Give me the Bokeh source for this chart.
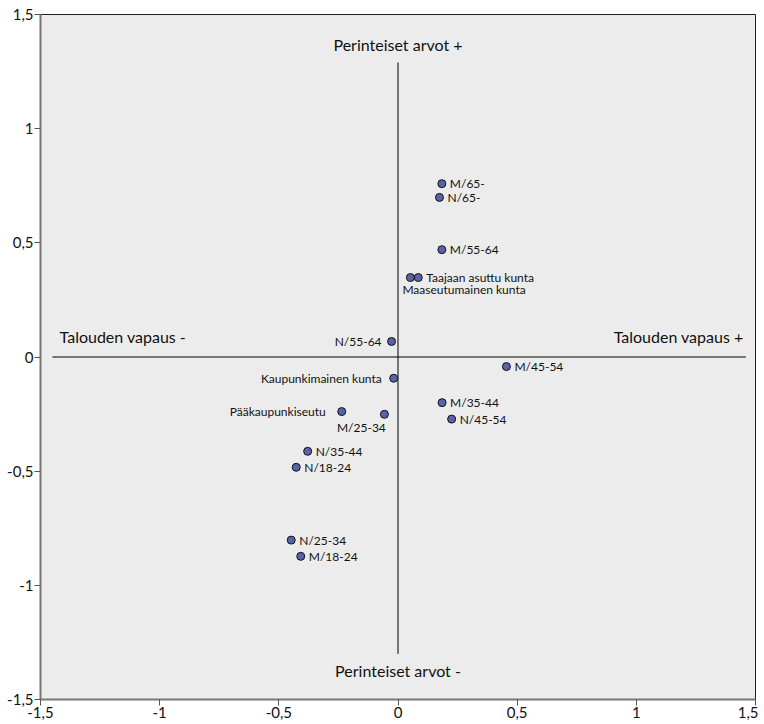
from bokeh.plotting import figure
from bokeh.models import ColumnDataSource, FixedTicker, Range1d, LabelSet
from bokeh.core.properties import value
from bokeh.embed import file_html
from bokeh.resources import INLINE

# ---- data ----
names = ["M/65-", "N/65-", "M/55-64", "Taajaan asuttu kunta", "Maaseutumainen kunta",
         "N/55-64", "M/45-54", "Kaupunkimainen kunta", "M/35-44", "N/45-54",
         "Pääkaupunkiseutu", "M/25-34", "N/35-44", "N/18-24", "N/25-34", "M/18-24"]
x_vals = [0.184, 0.174, 0.184, 0.085, 0.052,
          -0.027, 0.455, -0.018, 0.185, 0.225,
          -0.236, -0.057, -0.379, -0.427, -0.448, -0.408]
y_vals = [0.759, 0.699, 0.470, 0.348, 0.348,
          0.068, -0.042, -0.093, -0.200, -0.272,
          -0.239, -0.251, -0.413, -0.483, -0.802, -0.873]

tick_values = [-1.5, -1, -0.5, 0, 0.5, 1, 1.5]
tick_labels = ["-1,5", "-1", "-0,5", "0", "0,5", "1", "1,5"]

h_line_x = [-1.45, 1.46]
v_line_y = [-1.30, 1.29]

# label placement (style only)
lab_dx = [8, 8, 8, 8, -8, -10, 8, -12, 8, 8, -16, -23, 8, 8, 8, 8]
lab_dy = [0, 0, 0, 0, -12, 0, 0, 0, 0, 0, 0, -13, 0, 0, 0, 0]
lab_align = ["left", "left", "left", "left", "left", "right", "left", "right", "left",
             "left", "right", "center", "left", "left", "left", "left"]

FONT = "Lato"

src = ColumnDataSource(dict(x=x_vals, y=y_vals, name=names, dx=lab_dx, dy=lab_dy, align=lab_align))

p = figure(frame_width=715, frame_height=685, output_backend="svg", toolbar_location=None,
           x_range=Range1d(-1.5, 1.5), y_range=Range1d(-1.5, 1.5),
           min_border_left=40, min_border_top=14, min_border_right=3, min_border_bottom=24)
p.background_fill_color = "#ececec"
p.border_fill_color = "white"
p.outline_line_color = "#222222"
p.outline_line_width = 1
p.xgrid.visible = False
p.ygrid.visible = False

for ax in (p.xaxis[0], p.yaxis[0]):
    ax.ticker = FixedTicker(ticks=tick_values)
    ax.major_label_overrides = {v: l for v, l in zip(tick_values, tick_labels)}
    ax.major_label_text_font = FONT
    ax.major_label_text_font_size = "15px"
    ax.major_label_text_color = "#111111"
    ax.axis_line_color = "#777777"
    ax.axis_line_width = 2
    ax.major_tick_line_color = "#555555"
    ax.major_tick_out = 6
    ax.major_tick_in = 0
    ax.minor_tick_line_color = None
    ax.major_label_standoff = 1
p.yaxis[0].major_label_orientation = "horizontal"

# center reference lines
p.line(x=h_line_x, y=[0, 0], line_color="black", line_width=1)
p.line(x=[0, 0], y=v_line_y, line_color="black", line_width=1)

p.scatter("x", "y", source=src, size=8, fill_color="#5a62a8", line_color="#111111", line_width=1)

labels = LabelSet(x="x", y="y", text="name", source=src, x_offset="dx", y_offset="dy",
                  text_align="align", text_baseline="middle",
                  text_font=value(FONT), text_font_size="12px", text_color="#111111")
p.add_layout(labels)

# quadrant labels
p.text(x=[0, 0], y=[1.37, -1.375], text=["Perinteiset arvot +", "Perinteiset arvot -"],
       text_align="center", text_baseline="middle", text_font=value(FONT),
       text_font_size="16px", text_color="#111111")
p.text(x=[-1.42], y=[0.09], text=["Talouden vapaus -"], text_align="left",
       text_baseline="middle", text_font=value(FONT), text_font_size="16px", text_color="#111111")
p.text(x=[1.45], y=[0.09], text=["Talouden vapaus +"], text_align="right",
       text_baseline="middle", text_font=value(FONT), text_font_size="16px", text_color="#111111")

open("out.html", "w").write(file_html(p, INLINE))
